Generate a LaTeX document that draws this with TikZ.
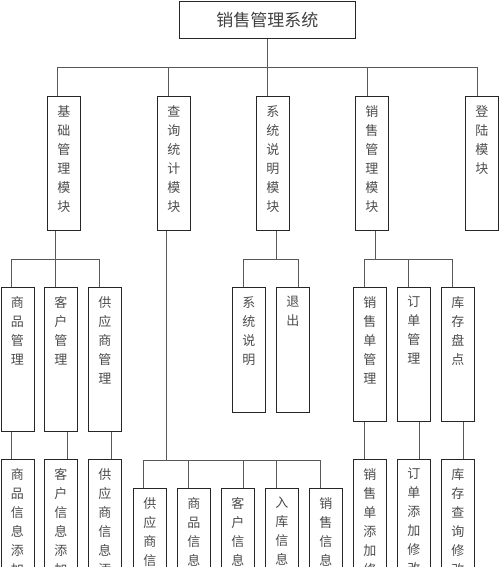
\documentclass[tikz,border=0pt]{standalone}
\usepackage{fontspec}
\newfontfamily\cjk{Noto Sans CJK SC}
\usepackage{tikz}

\tikzset{
  box/.style={draw=black!85, line width=0.9pt, anchor=north west, minimum width=33pt, inner sep=0pt},
  word/.style={anchor=north, align=center, inner sep=0pt, yshift=-9pt, font=\cjk\fontsize{13}{19}\selectfont, text=black!70},
  link/.style={draw=black!65, line width=0.8pt}
}

\begin{document}
\begin{tikzpicture}[x=1pt,y=-1pt]
            \path[use as bounding box, clip] (0,0) rectangle (500,567);

            \node[draw=black!85, line width=0.9pt, anchor=north west, minimum width=176pt, minimum height=37pt, font=\cjk\fontsize{17}{17}\selectfont, text=black!75] (top) at (179,1) {销售管理系统};

            \node[box, minimum height=134pt, label={[word]north:基\\础\\管\\理\\模\\块}] (m1) at (47,96) {};
            \node[box, minimum height=134pt, label={[word]north:查\\询\\统\\计\\模\\块}] (m2) at (157,96) {};
            \node[box, minimum height=134pt, label={[word]north:系\\统\\说\\明\\模\\块}] (m3) at (256,96) {};
            \node[box, minimum height=134pt, label={[word]north:销\\售\\管\\理\\模\\块}] (m4) at (355,96) {};
            \node[box, minimum height=134pt, label={[word]north:登\\陆\\模\\块}] (m5) at (465,96) {};

            \node[box, minimum height=144pt, label={[word]north:商\\品\\管\\理}] (a1) at (0.5,287) {};
            \node[box, minimum height=144pt, label={[word]north:客\\户\\管\\理}] (a2) at (44,287) {};
            \node[box, minimum height=144pt, label={[word]north:供\\应\\商\\管\\理}] (a3) at (88,287) {};

            \node[box, minimum height=125pt, label={[word]north:系\\统\\说\\明}] (s1) at (232,287) {};
            \node[box, minimum height=125pt, label={[word]north:退\\出}] (s2) at (276,287) {};

            \node[box, minimum height=134pt, label={[word]north:销\\售\\单\\管\\理}] (c1) at (353,287) {};
            \node[box, minimum height=134pt, label={[word]north:订\\单\\管\\理}] (c2) at (397,287) {};
            \node[box, minimum height=134pt, label={[word]north:库\\存\\盘\\点}] (c3) at (441,287) {};

            \node[box, minimum height=130pt, label={[word]north:商\\品\\信\\息\\添\\加}] (d1) at (0.5,459) {};
            \node[box, minimum height=130pt, label={[word]north:客\\户\\信\\息\\添\\加}] (d2) at (44,459) {};
            \node[box, minimum height=130pt, label={[word]north:供\\应\\商\\信\\息\\添}] (d3) at (88,459) {};

            \node[box, minimum height=130pt, label={[word]north:供\\应\\商\\信\\息}] (q1) at (133,488) {};
            \node[box, minimum height=130pt, label={[word]north:商\\品\\信\\息}] (q2) at (177,488) {};
            \node[box, minimum height=130pt, label={[word]north:客\\户\\信\\息}] (q3) at (221,488) {};
            \node[box, minimum height=130pt, label={[word]north:入\\库\\信\\息}] (q4) at (265,488) {};
            \node[box, minimum height=130pt, label={[word]north:销\\售\\信\\息}] (q5) at (309,488) {};

            \node[box, minimum height=130pt, label={[word]north:销\\售\\单\\添\\加\\修}] (e1) at (353,459) {};
            \node[box, minimum height=130pt, label={[word]north:订\\单\\添\\加\\修\\改}] (e2) at (397,459) {};
            \node[box, minimum height=130pt, label={[word]north:库\\存\\查\\询\\修\\改}] (e3) at (441,459) {};

            \draw[link] (top.south) -- ++(0,29) coordinate (j0);
            \draw[link] ([xshift=-6.5pt]m1.north) |- (j0);
            \draw[link] ([xshift=-5.5pt]m2.north) |- (j0);
            \draw[link] ([xshift=-5.5pt]m3.north) |- (j0);
            \draw[link] ([xshift=-4.5pt]m4.north) |- (j0);
            \draw[link] ([xshift=-4.5pt]m5.north) |- (j0);

            \draw[link] ([xshift=-8.5pt]m1.south) -- ++(0,28) coordinate (j1);
            \draw[link] ([xshift=-6pt]a1.north) |- (j1);
            \draw[link] ([xshift=-5.5pt]a2.north) |- (j1);
            \draw[link] ([xshift=-5.5pt]a3.north) |- (j1);

            \draw[link] ([xshift=-6pt]a1.south) -- ([xshift=-6pt]d1.north);
            \draw[link] ([xshift=6.5pt]a2.south) -- ([xshift=6.5pt]d2.north);
            \draw[link] ([xshift=6.5pt]a3.south) -- ([xshift=6.5pt]d3.north);

            \draw[link] ([xshift=-7.5pt]m2.south) -- ++(0,229) coordinate (j2);
            \draw[link] ([xshift=-6.5pt]q1.north) |- (j2);
            \draw[link] ([xshift=-5.5pt]q2.north) |- (j2);
            \draw[link] ([xshift=5.5pt]q3.north) |- (j2);
            \draw[link] ([xshift=-5.5pt]q4.north) |- (j2);
            \draw[link] ([xshift=-5.5pt]q5.north) |- (j2);

            \draw[link] ([xshift=3.5pt]m3.south) -- ++(0,28) coordinate (j3);
            \draw[link] ([xshift=-5.5pt]s1.north) |- (j3);
            \draw[link] ([xshift=5.5pt]s2.north) |- (j3);

            \draw[link] ([xshift=3.5pt]m4.south) -- ++(0,28) coordinate (j4);
            \draw[link] ([xshift=-5.5pt]c1.north) |- (j4);
            \draw[link] ([xshift=-5.5pt]c2.north) |- (j4);
            \draw[link] ([xshift=-5.5pt]c3.north) |- (j4);

            \draw[link] ([xshift=-5.5pt]c1.south) -- ([xshift=-5.5pt]e1.north);
            \draw[link] ([xshift=5.5pt]c2.south) -- ([xshift=5.5pt]e2.north);
            \draw[link] ([xshift=5.5pt]c3.south) -- ([xshift=5.5pt]e3.north);
\end{tikzpicture}
\end{document}
